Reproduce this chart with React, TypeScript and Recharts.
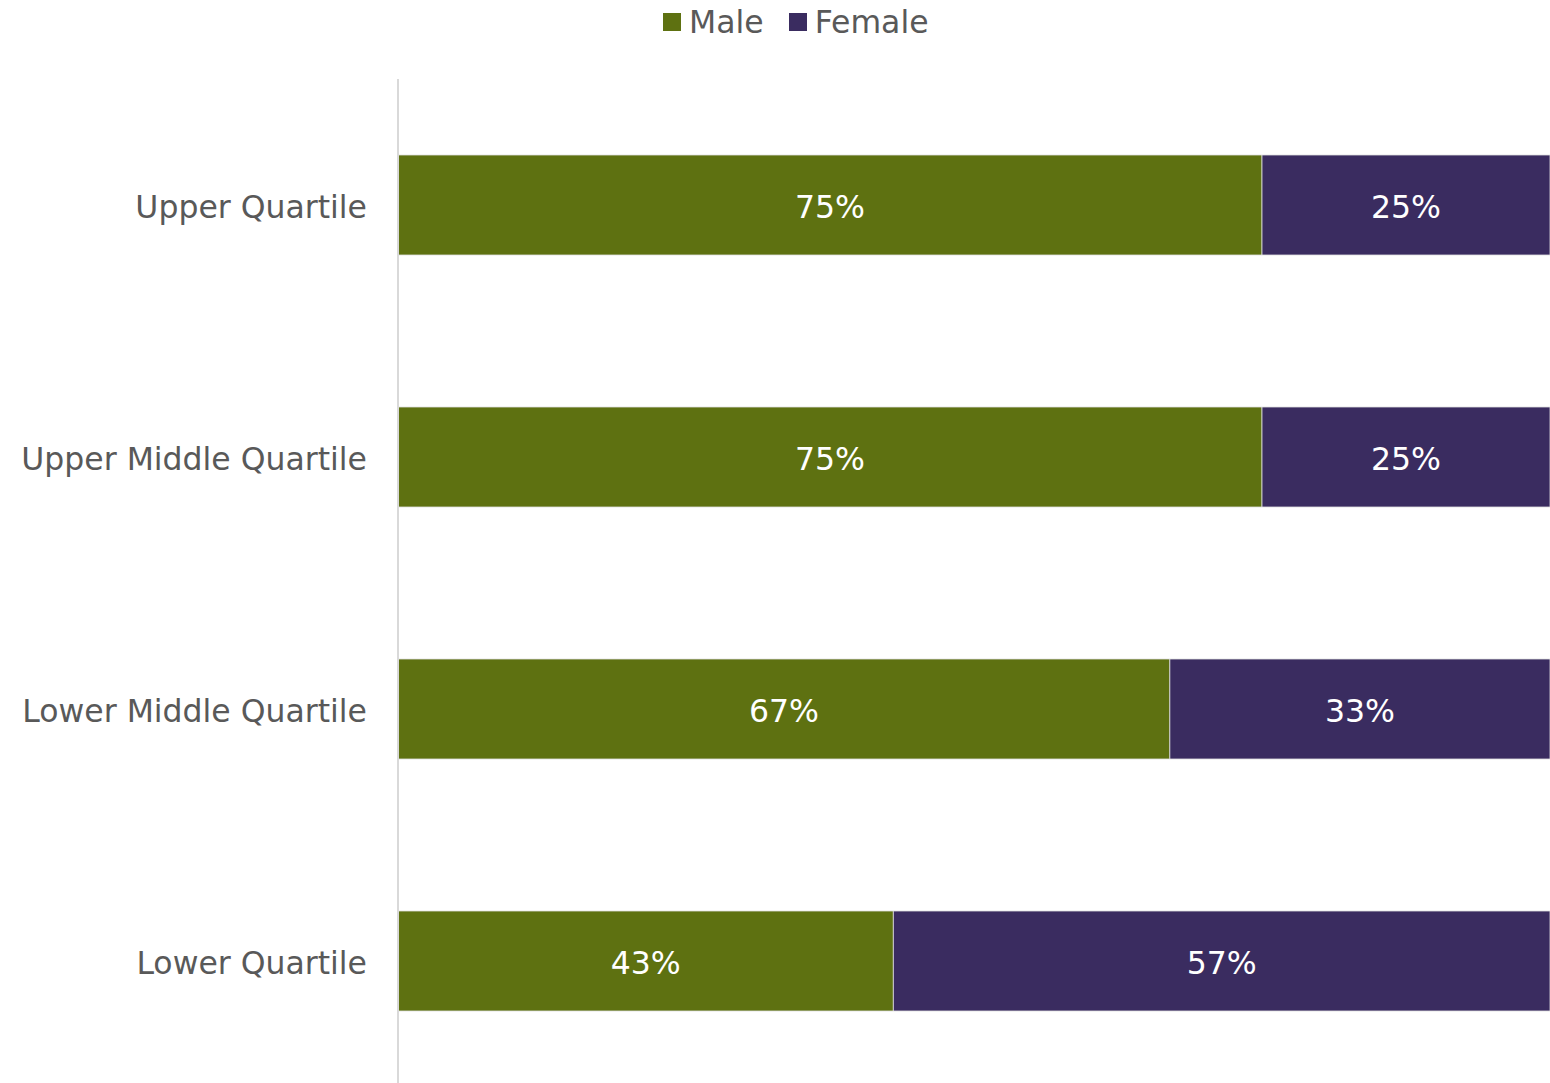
import React from 'react';
import { BarChart, Bar, XAxis, YAxis, LabelList } from 'recharts';

const categories = ['Upper Quartile', 'Upper Middle Quartile', 'Lower Middle Quartile', 'Lower Quartile'];
const maleValues = [75, 75, 67, 43];
const femaleValues = [25, 25, 33, 57];
const seriesNames = ['Male', 'Female'];
const seriesColors = ['#5e7111', '#3a2c60'];

const data = categories.map((c, i) => ({ name: c, Male: maleValues[i], Female: femaleValues[i] }));

const FONT = '"DejaVu Sans", Verdana, sans-serif';
const FS = 31.5;

const LegendBox = () => (
  <div style={{ position: 'absolute', top: 0, left: 663, display: 'flex', alignItems: 'center', fontFamily: FONT, fontSize: FS, color: '#595959', height: 44 }}>
    {seriesNames.map((n, i) => (
      <div key={n} style={{ display: 'flex', alignItems: 'center', marginRight: i === 0 ? 25 : 0 }}>
        <div style={{ width: 18, height: 18, background: seriesColors[i], marginRight: 8 }} />
        <span>{n}</span>
      </div>
    ))}
  </div>
);

const fmt = (v: any) => `${v}%`;

const Tick = (props: any) => {
  const { x, y, payload } = props;
  return (
    <text x={x} y={y + 2} dy="0.355em" textAnchor="end" fill="#595959" fontSize={FS} fontFamily={FONT}>
      {payload.value}
    </text>
  );
};

export default function App() {
  return (
    <div style={{ position: 'absolute', left: 0, top: 0, width: 1550, height: 1083, background: '#fff', overflow: 'hidden' }}>
      <LegendBox />
      <BarChart
        width={1550}
        height={1083}
        data={data}
        layout="vertical"
        margin={{ top: 79, right: 0, bottom: -4, left: 0 }}
        barSize={100}
      >
        <XAxis type="number" domain={[0, 100]} hide />
        <YAxis
          type="category"
          dataKey="name"
          width={398}
          axisLine={{ stroke: '#d9d9d9', strokeWidth: 2 }}
          tickLine={false}
          tickMargin={25}
          tick={<Tick />}
        />
        <Bar dataKey="Male" stackId="a" fill={seriesColors[0]} stroke="#e0e0e0" strokeWidth={0.8} isAnimationActive={false}>
          <LabelList dataKey="Male" position="center" formatter={fmt} fill="#ffffff" dy={2} style={{ fontSize: FS, fontFamily: FONT }} />
        </Bar>
        <Bar dataKey="Female" stackId="a" fill={seriesColors[1]} stroke="#e0e0e0" strokeWidth={0.8} isAnimationActive={false}>
          <LabelList dataKey="Female" position="center" formatter={fmt} fill="#ffffff" dy={2} style={{ fontSize: FS, fontFamily: FONT }} />
        </Bar>
      </BarChart>
    </div>
  );
}
